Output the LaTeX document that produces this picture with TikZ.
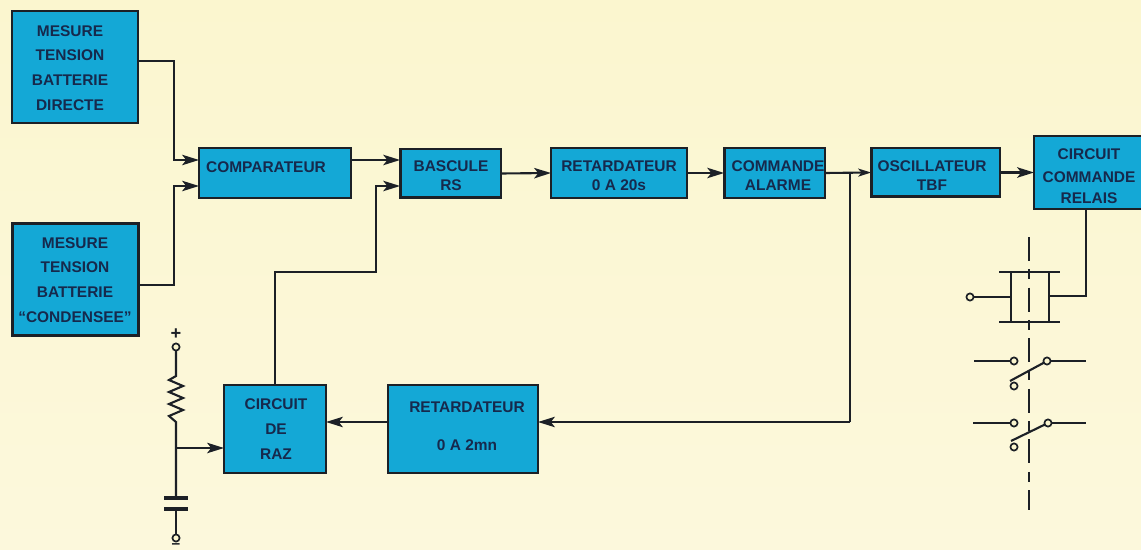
\documentclass[tikz,border=0pt]{standalone}
\usepackage{fontspec}
\setmainfont{Liberation Sans}
\usetikzlibrary{arrows.meta}
\definecolor{paper}{HTML}{FBF6CF}
\definecolor{paperlow}{HTML}{FCF8DC}
\definecolor{boxblue}{HTML}{14A8D6}
\definecolor{inkline}{HTML}{1C2026}
\definecolor{inktext}{HTML}{16294C}
\tikzset{
  block/.style={draw=inkline,fill=boxblue,line width=2pt,outer sep=0pt,inner sep=0pt},
  lbl/.style={inner sep=0pt,text=inktext,align=center,font=\fontsize{11}{13}\selectfont\bfseries},
  wire/.style={draw=inkline,line width=1.5pt},
  arrow/.style={wire,-{Stealth[length=.42cm,width=.26cm,inset=.1cm]}},
  thin arrow/.style={wire,-{Stealth[length=.32cm,width=.2cm,inset=.08cm]}},
  term/.style={circle,draw=inkline,fill=paper,line width=1.2pt,minimum size=.18cm,inner sep=0pt,outer sep=0pt},
}
\begin{document}
\begin{tikzpicture}[x=.025cm,y=-.025cm]
\useasboundingbox (0,0) rectangle (1141,550);
\shade[top color=paper,bottom color=paperlow] (0,0) rectangle (1141,550);
% blocks
\node[block,minimum width=3.15cm,minimum height=2.8cm] (mesa) at (75,67) {};
\node[block,minimum width=3.13cm,minimum height=2.78cm] (mesb) at (75.5,279.5) {};
\node[block,minimum width=3.8cm,minimum height=1.25cm] (comp) at (275,173) {};
\node[block,minimum width=2.52cm,minimum height=1.22cm] (basc) at (450.5,173.5) {};
\node[block,minimum width=3.4cm,minimum height=1.25cm] (retb) at (619,173) {};
\node[block,minimum width=2.52cm,minimum height=1.25cm] (cmda) at (774.5,173) {};
\node[block,minimum width=3.22cm,minimum height=1.22cm] (osci) at (935.5,172.5) {};
\node[block,minimum width=2.8cm,minimum height=1.82cm] (rela) at (1090,172.5) {};
\node[block,minimum width=2.55cm,minimum height=2.2cm] (raz) at (275,429) {};
\node[block,minimum width=3.75cm,minimum height=2.2cm] (reta) at (463,429) {};
% texts
\node[lbl] (mesa text) at (70,68) {MESURE\\[4.6pt]TENSION\\[4.6pt]BATTERIE\\[4.6pt]DIRECTE};
\node[lbl] (mesb text) at (75,280) {MESURE\\[4.6pt]TENSION\\[4.6pt]BATTERIE\\[4.6pt]``CONDENSEE''};
\node[lbl] (comp text) at (266,167) {COMPARATEUR};
\node[lbl] (basc text) at (451,176) {BASCULE\\[.5pt]RS};
\node[lbl] (retb text) at (619,176) {RETARDATEUR\\[.5pt]0 A 20s};
\node[lbl] (cmda text) at (778,176) {COMMANDE\\[.5pt]ALARME};
\node[lbl] (osci text) at (932,176) {OSCILLATEUR\\[.5pt]TBF};
\node[lbl] (rela text) at (1089,176) {CIRCUIT\\[3pt]COMMANDE\\[2pt]RELAIS};
\node[lbl] (raz text) at (276,429) {CIRCUIT\\[5pt]DE\\[5pt]RAZ};
\node[lbl] (reta text) at (467,426) {RETARDATEUR\\[14pt]0 A 2mn};
% junctions
\coordinate (ja) at (174,160);
\coordinate (jb) at (174,186);
\coordinate (jc) at (376,186);
\coordinate (jd) at (850,173);
\coordinate (je) at (176,448);
% connectors
\draw[arrow] (mesa.east |- 0,61) -| (ja) -- (comp.west |- ja);
\draw[arrow] (mesb.east |- 0,285) -| (jb) -- (comp.west |- jb);
\draw[arrow] (comp.east |- 0,160) -- (basc.west |- 0,160);
\draw[arrow] (raz.north) |- (jc |- 0,272) -- (jc) -- (basc.west |- jc);
\draw[arrow] (basc.east) -- (retb.west);
\draw[arrow] (retb.east) -- (cmda.west);
\draw[thin arrow] (cmda.east) -- (osci.west);
\draw[wire] (jd) -- (850,422);
\draw[arrow] (850,422) -- (reta.east |- 0,422);
\draw[arrow] (reta.west |- 0,422) -- (raz.east |- 0,422);
\draw[arrow] (osci.east) -- (rela.west |- osci.east);
% supply branch
\node[term] (tplus) at (176,347) {};
\node[term] (tminus) at (176,538) {};
\node[inner sep=0pt,text=inkline,font=\fontsize{13}{13}\selectfont\bfseries] (plus) at (176,334) {+};
\node[inner sep=0pt,text=inkline,font=\fontsize{11}{11}\selectfont\bfseries] (minus) at (176,546) {--};
\draw[wire] (tplus) -- (176,376) -- (169,380) -- (183,386) -- (169,392) -- (183,398) -- (169,404) -- (183,410) -- (169,416) -- (176,422) -- (je) -- (176,498);
\draw[wire,line width=2.4pt] (164,498) -- (188,498);
\draw[wire,line width=3.4pt] (164,509) -- (188,509);
\draw[wire] (176,509) -- (tminus);
\draw[arrow] (je) -- (raz.west |- je);
% relay
\draw[wire,dash pattern=on 17pt off 6pt on 7pt off 6pt] (1029,237) -- (1029,510);
\draw[wire] (999,272) -- (1060,272);
\draw[wire] (999,322) -- (1060,322);
\draw[wire] (1011,272) -- (1011,322);
\draw[wire] (1049,272) -- (1049,322);
\node[term] (tcoil) at (970,297) {};
\draw[wire] (tcoil) -- (1011,297);
\draw[wire] (1086,0 |- rela.south) |- (1049,296);
% contacts
\node[term] (cal) at (1014,361) {};
\node[term] (car) at (1047,361) {};
\node[term] (cao) at (1014,386) {};
\draw[wire] (974,361) -- (cal);
\draw[wire] (car) -- (1086,361);
\draw[wire] (1010,381) -- (car);
\node[term] (cbl) at (1014,423) {};
\node[term] (cbr) at (1048,423) {};
\node[term] (cbo) at (1014,447) {};
\draw[wire] (973,423) -- (cbl);
\draw[wire] (cbr) -- (1086,423);
\draw[wire] (1011,441) -- (cbr);
\end{tikzpicture}
\end{document}
